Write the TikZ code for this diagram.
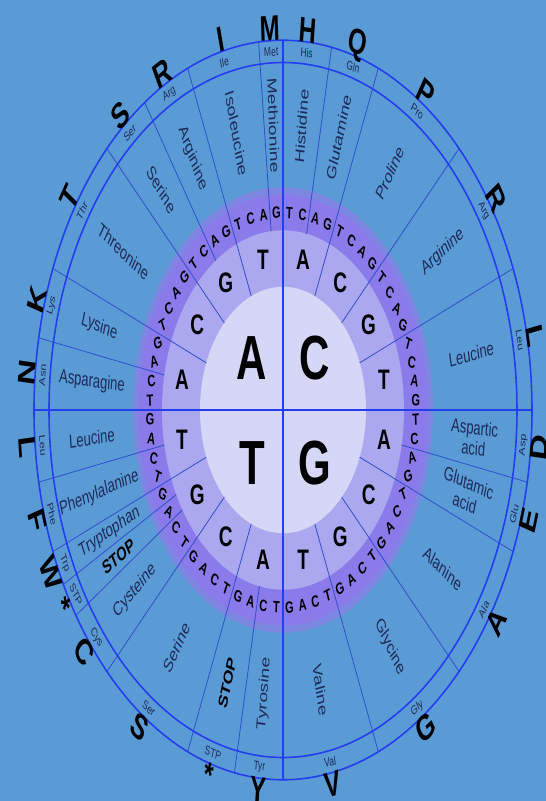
\documentclass[tikz,border=0pt]{standalone}
\usepackage{fontspec}
\setmainfont{Liberation Sans}
\usetikzlibrary{calc}
\definecolor{bgblue}{RGB}{91,155,213}
\definecolor{rimblue}{RGB}{35,62,238}
\definecolor{spokeblue}{RGB}{48,78,205}
\definecolor{ringglow}{RGB}{125,135,225}
\definecolor{ringdark}{RGB}{138,122,234}
\definecolor{ringmid}{RGB}{172,168,240}
\definecolor{ringlight}{RGB}{214,214,246}
\definecolor{labelnavy}{RGB}{28,42,88}
\tikzset{
  bigbase/.style={font=\fontsize{42}{42}\selectfont\bfseries,inner sep=0pt},
  midbase/.style={font=\fontsize{19}{19}\selectfont\bfseries,inner sep=0pt},
  lastbase/.style={font=\fontsize{11}{11}\selectfont\bfseries,inner sep=0pt},
  aaname/.style={font=\fontsize{13}{14}\selectfont,text=labelnavy,align=center,inner sep=0pt},
  aashort/.style={font=\fontsize{8.5}{8.5}\selectfont,text=labelnavy,inner sep=0pt},
  aacode/.style={font=\fontsize{24}{24}\selectfont\bfseries,inner sep=0pt},
  rim/.style={rimblue,line width=1.6pt},
  spoke/.style={spokeblue,line width=0.8pt},
}

\begin{document}
\begin{tikzpicture}[x=1pt,y=1pt,yscale=1.485,transform shape]
  \fill[bgblue] (-283,-263.3) rectangle (263,276.1);
  \useasboundingbox (-283,-263.3) rectangle (263,276.1);
  \fill[ringglow] (0,0) circle (150);
  \fill[ringdark] (0,0) circle (145);
  \fill[ringmid] (0,0) circle (121);
  \fill[ringlight] (0,0) circle (83);
  \foreach \a in {22.5,45,67.5,112.5,135,157.5,202.5,225,247.5,292.5,315,337.5}
    \draw[spoke] (\a:83) -- (\a:249);
  \foreach \a in {78.75,95.625,123.75,168.75,191.25,208.125,213.75,258.75,348.75}
    \draw[spoke] (\a:121) -- (\a:249);
  \draw[rim] (0,0) circle (249) (0,0) circle (234);
  \draw[rim] (90:249) -- (270:249) (180:249) -- (0:249);
  \node[bigbase] (firstA) at (-31,35) {A};
  \node[bigbase] (firstC) at (32,35) {C};
  \node[bigbase] (firstT) at (-31,-36) {T};
  \node[bigbase] (firstG) at (32,-36) {G};
  \foreach \a/\b [count=\i] in {101.25/T,123.75/G,146.25/C,168.75/A,78.75/A,56.25/C,33.75/G,11.25/T,
      191.25/T,213.75/G,236.25/C,258.75/A,281.25/T,303.75/G,326.25/C,348.75/A}
    \node[midbase] (second\i) at (\a:103) {\b};
  \foreach \k in {0,...,63}{
    \pgfmathsetmacro\ang{90-5.625*(\k+0.5)}
    \pgfmathsetmacro\rot{0.5*asin(-sin(2*\ang))}
    \pgfmathparse{{"T","C","A","G"}[mod(\k,4)]}\let\base\pgfmathresult
    \node[lastbase,rotate=\rot] (third\k) at (\ang:133) {\base};
  }
  \foreach \a/\name/\short/\code [count=\i] in {11.25/Leucine/Leu/L,33.75/Arginine/Arg/R,
      56.25/Proline/Pro/P,73.125/Glutamine/Gln/Q,84.375/Histidine/His/H,92.8125/Methionine/Met/M,
      104.0625/Isoleucine/Ile/I,118.125/Arginine/Arg/R,129.375/Serine/Ser/S,146.25/Threonine/Thr/T,
      163.125/Lysine/Lys/K,174.375/Asparagine/Asn/N,185.625/Leucine/Leu/L,
      196.875/Phenylalanine/Phe/F,205.3125/Tryptophan/Trp/W,210.9375/{\bfseries\color{black}STOP}/STP/*,
      219.375/Cysteine/Cys/C,236.25/Serine/Ser/S,253.125/{\bfseries\color{black}STOP}/STP/*,
      264.375/Tyrosine/Tyr/Y,281.25/Valine/Val/V,303.75/Glycine/Gly/G,326.25/Alanine/Ala/A,
      343.125/{Glutamic\\acid}/Glu/E,354.375/{Aspartic\\acid}/Asp/D}{
    \pgfmathsetmacro\rr{cos(\a)>=0 ? \a : \a+180}
    \pgfmathsetmacro\rt{sin(\a)>=0 ? \a-90 : \a+90}
    \node[aaname,rotate=\rr] (name\i) at (\a:192) {\name};
    \node[aashort,rotate=\rt] (short\i) at (\a:241.5) {\short};
    \node[aacode,rotate=\rt] (code\i) at (\a:257) {\code};
  }
\end{tikzpicture}
\end{document}
